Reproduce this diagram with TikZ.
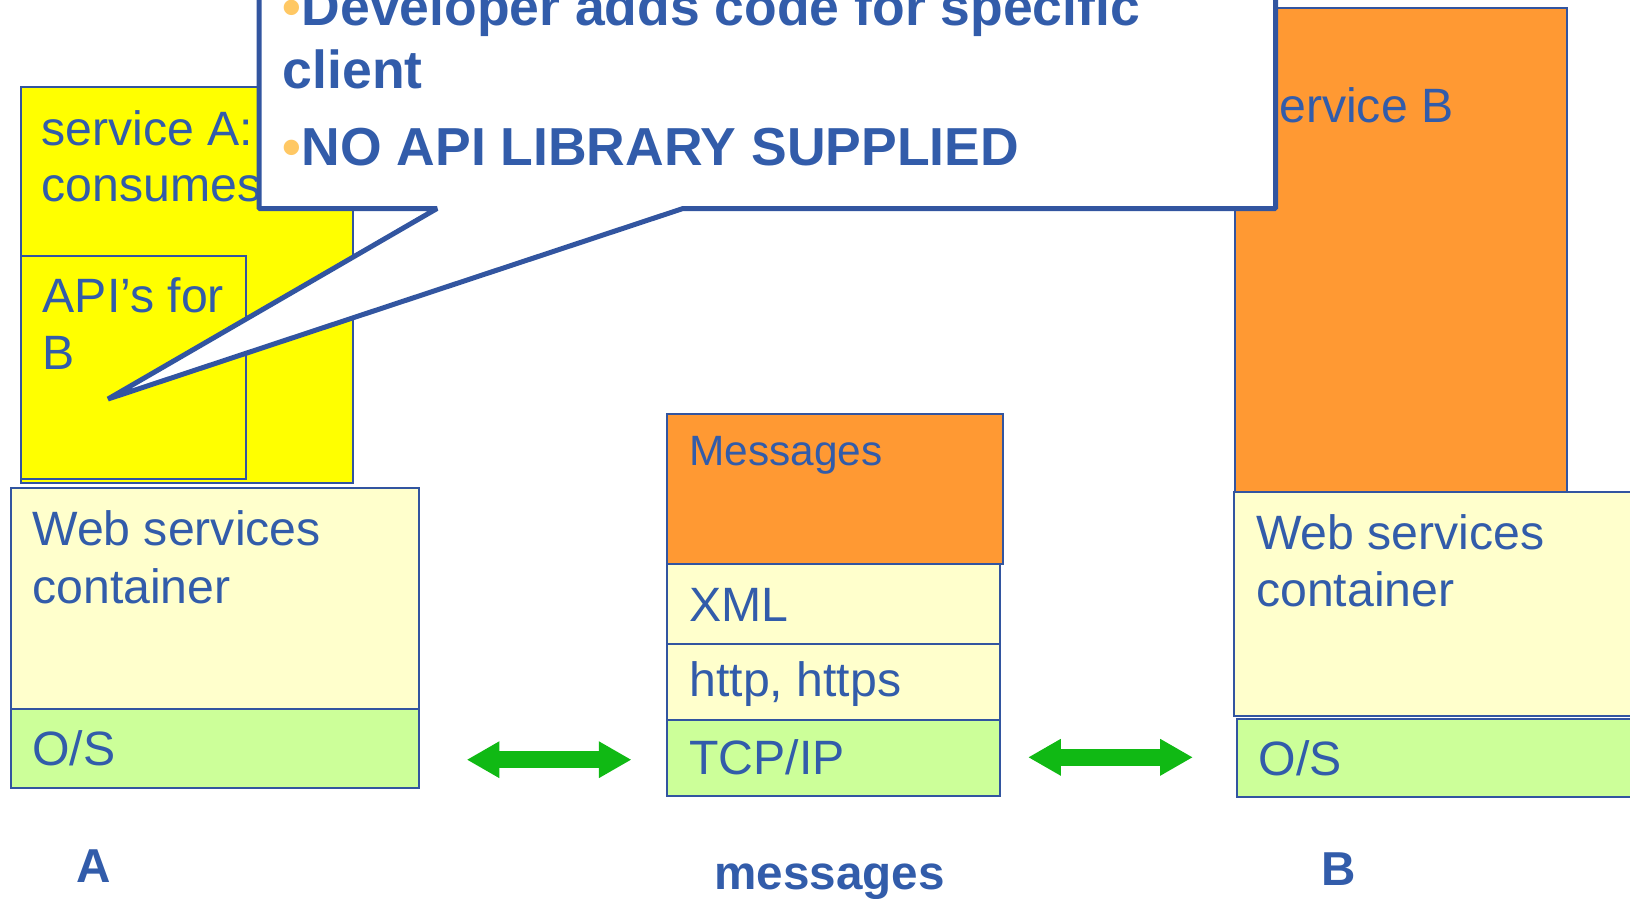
\documentclass[tikz,border=0pt]{standalone}
\usepackage{fontspec}
\setmainfont{Liberation Sans}
\usetikzlibrary{arrows.meta}
\definecolor{tblue}{RGB}{50,92,170}
\definecolor{lblue}{RGB}{50,85,160}
\definecolor{yel}{RGB}{255,255,0}
\definecolor{lyel}{RGB}{255,255,204}
\definecolor{lgreen}{RGB}{204,255,153}
\definecolor{orng}{RGB}{255,153,51}
\definecolor{agreen}{RGB}{16,185,20}
\definecolor{bullc}{RGB}{255,200,100}
\begin{document}
\begin{tikzpicture}[x=1pt,y=-1pt,
 box/.style={draw=lblue, line width=2pt, inner sep=0pt, outer sep=0pt, anchor=north west},
 txt/.style={text=tblue, inner sep=0pt, anchor=base west, font=\fontsize{48.2}{57}\selectfont},
 btxt/.style={text=tblue, inner sep=0pt, anchor=base, font=\fontsize{47.6}{56}\selectfont\bfseries},
 ctxt/.style={text=tblue, inner sep=0pt, anchor=base west, font=\fontsize{53.5}{64}\selectfont\bfseries},
 garrow/.style={draw=agreen, line width=17pt, {Triangle[length=32.7pt,width=34.4pt]}-{Triangle[length=32.7pt,width=34.4pt]}}
]
\useasboundingbox (0,0) rectangle (1630,898);
\clip (0,0) rectangle (1630,898);

% Stack A
\node[box, fill=yel, minimum width=332.6pt, minimum height=396pt] (svcA) at (20.8,87.3) {};
\node[box, fill=yel, minimum width=225.6pt, minimum height=223pt] (apiB) at (20.8,256) {};
\node[box, fill=lyel, minimum width=408pt, minimum height=221.3pt] (wscA) at (11.4,488) {};
\node[box, fill=lgreen, minimum width=408pt, minimum height=79pt] (osA) at (11.4,709.3) {};
\node[txt] (tsvcA1) at (41.6,145) {service A:};
\node[txt] (tsvcA2) at (41.6,201.7) {consumes};
\node[txt] (tapi1) at (42.6,312.3) {API’s for};
\node[txt] (tapi2) at (42.6,369.3) {B};
\node[txt] (twscA1) at (32.2,545.7) {Web services};
\node[txt] (twscA2) at (32.2,603.3) {container};
\node[txt] (tosA) at (32.2,765.7) {O/S};

% Message stack
\node[box, fill=orng, minimum width=335.4pt, minimum height=150pt] (msg) at (667.3,414) {};
\node[box, fill=lyel, minimum width=332.7pt, minimum height=80pt] (xml) at (667.3,564) {};
\node[box, fill=lyel, minimum width=332.7pt, minimum height=76pt] (http) at (667.3,644) {};
\node[box, fill=lgreen, minimum width=332.7pt, minimum height=76pt] (tcp) at (667.3,720) {};
\node[txt, font=\fontsize{42.4}{50}\selectfont] (tmsg) at (689.3,465) {Messages};
\node[txt] (txml) at (689.3,621.7) {XML};
\node[txt] (thttp) at (689.3,696.7) {http, https};
\node[txt] (ttcp) at (689.3,774) {TCP/IP};

% Stack B
\node[box, fill=orng, minimum width=331.7pt, minimum height=483.4pt] (svcB) at (1235,8.3) {};
\node[box, fill=lyel, minimum width=406pt, minimum height=224.3pt] (wscB) at (1234,491.7) {};
\node[box, fill=lgreen, minimum width=403pt, minimum height=78pt] (osB) at (1237.3,719.3) {};
\node[txt] (tsvcB) at (1255,122.3) {service B};
\node[txt] (twscB1) at (1256,549.3) {Web services};
\node[txt] (twscB2) at (1256,606.7) {container};
\node[txt] (tosB) at (1258.3,775) {O/S};

% Arrows
\coordinate (la1) at (466.7,759.7);
\coordinate (la2) at (631.5,759.7);
\coordinate (ra1) at (1028.1,757.3);
\coordinate (ra2) at (1192.9,757.3);
\draw[garrow] (la1) -- (la2);
\draw[garrow] (ra1) -- (ra2);

% Bottom labels
\node[btxt] (lA) at (93.6,882.3) {A};
\node[btxt] (lmsg) at (829.5,889) {messages};
\node[btxt] (lB) at (1338.4,885.7) {B};

% Callout
\draw[draw=lblue, fill=white, line width=5pt, line join=bevel]
  (259,-30) -- (1275.5,-30) -- (1275.5,208.5) -- (683,208.5) -- (108,399)
  -- (437,208.5) -- (259,208.5) -- cycle;
\node[ctxt] (c1) at (282.7,25) {\textcolor{bullc}{•}Developer adds code for specific};
\node[ctxt] (c2) at (282.7,88.3) {client};
\node[ctxt] (c3) at (282.7,165) {\textcolor{bullc}{•}NO API LIBRARY SUPPLIED};
\end{tikzpicture}
\end{document}
